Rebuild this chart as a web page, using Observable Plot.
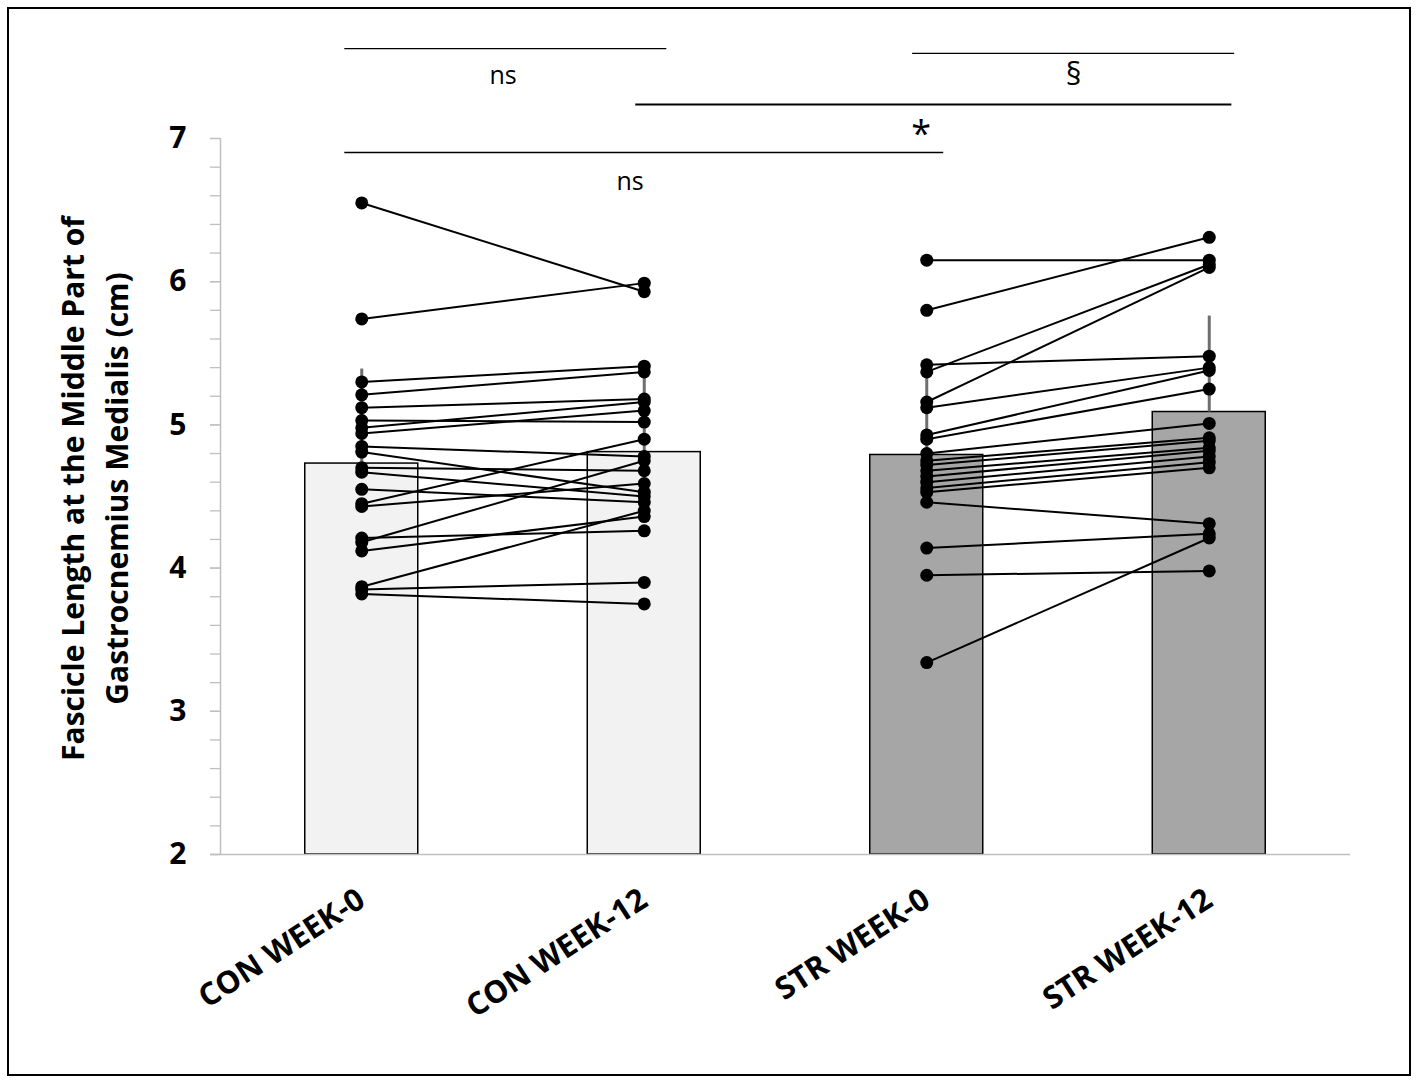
<!DOCTYPE html>
<html>
<head>
<meta charset="utf-8">
<script src="https://cdn.jsdelivr.net/npm/d3@7"></script>
<script src="https://cdn.jsdelivr.net/npm/@observablehq/plot@0.6"></script>
<style>
  html, body { margin: 0; padding: 0; background: #ffffff; }
  #wrap { position: relative; width: 1418px; height: 1082px; overflow: hidden; }
  #wrap svg { position: absolute; left: 0; top: 0; }
  #border { position: absolute; left: 7px; top: 7px; width: 1404px; height: 1069px; border: 2px solid #000; box-sizing: border-box; pointer-events: none; }
</style>
</head>
<body>
<div id="wrap"><div id="border"></div></div>
<script>
// ---- data ----
const categories = ["CON WEEK-0", "CON WEEK-12", "STR WEEK-0", "STR WEEK-12"];
const barMeans = [4.73, 4.81, 4.79, 5.09];
const barSD = [0.66, 0.60, 0.59, 0.67];
const barFills = ["#f2f2f2", "#f2f2f2", "#a6a6a6", "#a6a6a6"];

const conWeek0  = [6.55, 5.74, 5.30, 5.21, 5.12, 5.03, 4.98, 4.94, 4.85, 4.81, 4.70, 4.67, 4.55, 4.45, 4.43, 4.21, 4.18, 4.12, 3.87, 3.85, 3.82];
const conWeek12 = [5.93, 5.99, 5.41, 5.37, 5.18, 5.02, 5.16, 5.10, 4.78, 4.53, 4.68, 4.50, 4.46, 4.90, 4.59, 4.26, 4.75, 4.36, 4.40, 3.90, 3.75];
const strWeek0  = [6.15, 5.80, 5.42, 5.37, 5.16, 5.12, 4.93, 4.90, 4.80, 4.75, 4.72, 4.68, 4.64, 4.60, 4.56, 4.53, 4.46, 4.14, 3.95, 3.34];
const strWeek12 = [6.15, 6.31, 5.48, 6.12, 6.10, 5.40, 5.38, 5.25, 5.01, 4.91, 4.89, 4.84, 4.82, 4.78, 4.74, 4.70, 4.31, 4.24, 3.98, 4.21];

const yTicks = [2, 3, 4, 5, 6, 7];
const yMinorTicks = d3.range(2, 7.001, 0.2);

const sigLabels = ["ns", "§", "*", "ns"];
const sigFrom   = [-0.06, 1.95, 0.97, -0.06];
const sigTo     = [1.08, 3.09, 3.08, 2.06];
const sigLineY  = [7.628, 7.594, 7.237, 6.902];
const sigTextX  = [0.50, 2.52, 1.98, 0.95];
const sigTextY  = [7.433, 7.440, 7.030, 6.693];
const sigSizes  = [25, 31, 36, 25];
const sigWidths = [1.2, 1.2, 2, 1.5];

const yTitle = "Fascicle Length at the Middle Part of\nGastrocnemius Medialis (cm)";

// ---- tables ----
const bars = categories.map((c, i) => ({i, c, mean: barMeans[i], sd: barSD[i], fill: barFills[i]}));
const pairs = [
  ...conWeek0.map((v, k) => ({g0: 0, g1: 1, a: v, b: conWeek12[k]})),
  ...strWeek0.map((v, k) => ({g0: 2, g1: 3, a: v, b: strWeek12[k]}))
];
const points = [
  ...conWeek0.map(v => ({g: 0, v})), ...conWeek12.map(v => ({g: 1, v})),
  ...strWeek0.map(v => ({g: 2, v})), ...strWeek12.map(v => ({g: 3, v}))
];
const sig = sigLabels.map((t, i) => ({t, x1: sigFrom[i], x2: sigTo[i], y: sigLineY[i], tx: sigTextX[i], ty: sigTextY[i], w: sigWidths[i], fs: sigSizes[i]}));

const halfBar = 0.2;
const font = "'Open Sans', Lato, sans-serif";

const chart = Plot.plot({
  width: 1418,
  height: 1082,
  marginLeft: 220,
  marginRight: 68,
  marginTop: 138,
  marginBottom: 228,
  x: {domain: [-0.5, 3.5], axis: null},
  y: {domain: [2, 7], axis: null},
  style: {fontFamily: font, background: "transparent", overflow: "visible", color: "#000"},
  marks: [
    // minor ticks
    Plot.axisY(yMinorTicks, {anchor: "left", tickSize: 10, tickFormat: () => "", stroke: "#bfbfbf", strokeWidth: 1.3, label: null}),
    // major ticks + labels
    Plot.axisY(yTicks, {anchor: "left", tickSize: 10, tickPadding: 24, tickFormat: d3.format("d"), fontSize: 30, fontWeight: "bold", stroke: "#bfbfbf", fill: "#000", strokeWidth: 1.3, label: null}),
    Plot.ruleX([-0.5], {y1: 2, y2: 7, stroke: "#bfbfbf", strokeWidth: 1.5}),
    // bars
    Plot.rectY(bars, {x1: d => d.i - halfBar, x2: d => d.i + halfBar, y1: 2, y2: "mean", fill: "fill", stroke: "#000", strokeWidth: 1.5}),
    // error bars (upper)
    Plot.ruleX(bars, {x: "i", y1: "mean", y2: d => d.mean + d.sd, stroke: "#6f6f6f", strokeWidth: 3}),
    // x axis line
    Plot.ruleY([2], {stroke: "#bfbfbf", strokeWidth: 1.5, insetLeft: -10}),
    // individual lines
    Plot.link(pairs, {x1: "g0", x2: "g1", y1: "a", y2: "b", stroke: "#000", strokeWidth: 2}),
    Plot.dot(points, {x: "g", y: "v", r: 6.5, fill: "#000"}),
    // significance
    Plot.ruleY(sig, {y: "y", x1: "x1", x2: "x2", stroke: "#000", strokeWidth: "w"}),
    Plot.text(sig, {x: "tx", y: "ty", text: "t", fontSize: "fs", fill: "#000", lineAnchor: "middle"}),
    // x labels
    Plot.text(bars, {x: "i", y: () => 2, text: "c", rotate: -33, textAnchor: "end", lineAnchor: "middle", dx: 0, dy: 42, fontSize: 31, fontWeight: "bold", fill: "#000"}),
    // y title
    Plot.text([yTitle], {frameAnchor: "left", dx: -129, dy: -8, rotate: -90, textAnchor: "middle", lineAnchor: "middle", lineHeight: 1.48, fontSize: 30, fontWeight: "bold", fill: "#000"})
  ]
});
document.getElementById("wrap").prepend(chart);
</script>
</body>
</html>
